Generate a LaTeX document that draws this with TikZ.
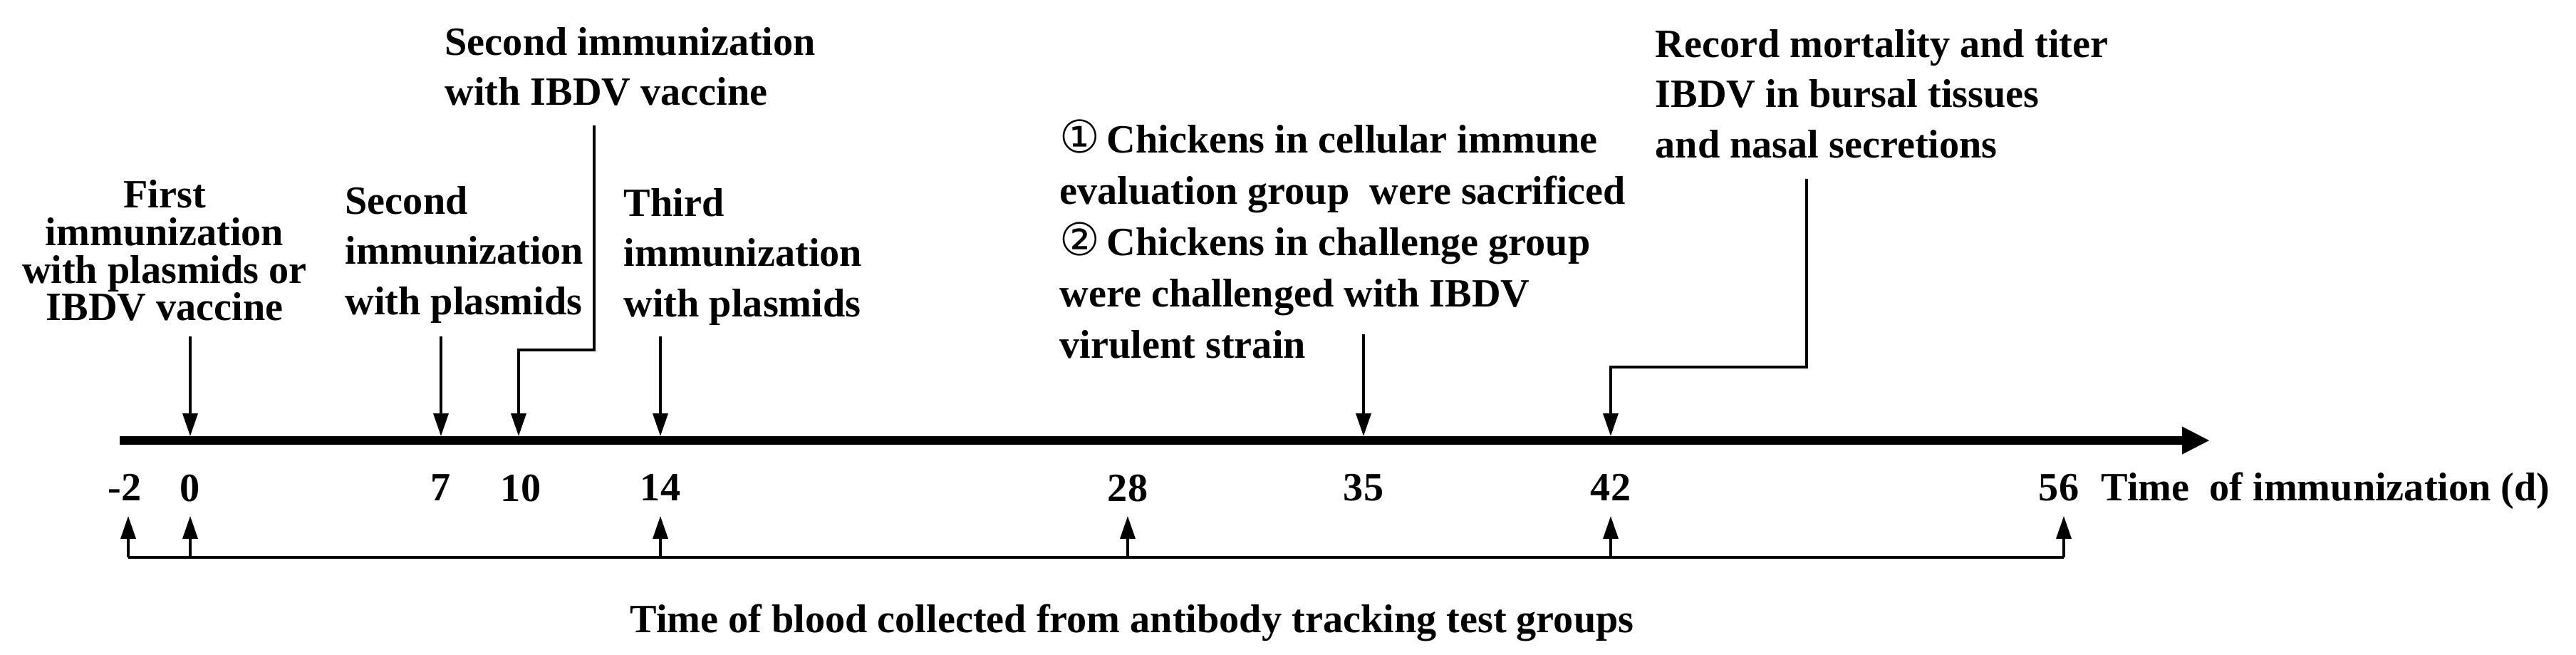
\documentclass[tikz,border=0pt]{standalone}
\usepackage{fontspec}
\setmainfont{Liberation Serif}
\newfontfamily\circfont{DejaVu Sans}
\usetikzlibrary{positioning,arrows.meta}
\tikzset{
	lbl/.style={font=\fontsize{16}{20}\selectfont\bfseries, inner sep=0pt, align=left},
	num/.style={font=\fontsize{16}{20}\selectfont\bfseries, inner sep=0pt},
	arr/.style={line width=1pt, -{Triangle[length=3.2mm,width=2.1mm]}},
	timeaxis/.style={line width=0.12cm, -{Triangle[length=3.9mm,width=3.6mm]}},
}
\newcommand{\circnum}[1]{{\circfont\mdseries\fontsize{18}{20}\selectfont #1}\,}

\begin{document}
\begin{tikzpicture}
	\useasboundingbox (0,0) rectangle (36.16,9.19);
	\coordinate (ax0) at (1.68,3.01);
	\coordinate (ax1) at (31.02,3.01);
	\coordinate (dm2) at (1.80,3.07);
	\coordinate (d0) at (2.67,3.07);
	\coordinate (d7) at (6.19,3.07);
	\coordinate (d10) at (7.28,3.07);
	\coordinate (d14) at (9.27,3.07);
	\coordinate (d28) at (15.83,3.07);
	\coordinate (d35) at (19.14,3.07);
	\coordinate (d42) at (22.61,3.07);
	\coordinate (d56) at (28.97,3.07);
	\coordinate[above=1.40cm of d0] (t0);
	\coordinate[above=1.40cm of d7] (t7);
	\coordinate[above=1.40cm of d14] (t14);
	\coordinate[above=1.43cm of d35] (t35);
	\coordinate (e10a) at (8.34,7.43);
	\coordinate (e10b) at (7.28,4.28);
	\coordinate (e42a) at (25.36,6.68);
	\coordinate (e42b) at (22.61,4.04);
	\node[num, below=0.53cm of dm2, xshift=-0.05cm] (nm2) {-2};
	\node[num, below=0.53cm of d0] (n0) {0};
	\node[num, below=0.53cm of d7] (n7) {7};
	\node[num, below=0.53cm of d10, xshift=0.03cm] (n10) {10};
	\node[num, below=0.53cm of d14] (n14) {14};
	\node[num, below=0.53cm of d28] (n28) {28};
	\node[num, below=0.53cm of d35] (n35) {35};
	\node[num, below=0.53cm of d42] (n42) {42};
	\node[num, below=0.53cm of d56, xshift=-0.07cm] (n56) {56};
	\node[num, base right=0.3cm of n56] (tlabel) {Time~ of immunization (d)};
	\coordinate[below=1.12cm of dm2] (um2);
	\coordinate[below=1.12cm of d0] (u0);
	\coordinate[below=1.12cm of d14] (u14);
	\coordinate[below=1.12cm of d28] (u28);
	\coordinate[below=1.12cm of d42] (u42);
	\coordinate[below=1.12cm of d56] (u56);
	\coordinate[below=0.58cm of um2] (bm2);
	\coordinate[below=0.58cm of u0] (b0);
	\coordinate[below=0.58cm of u14] (b14);
	\coordinate[below=0.58cm of u28] (b28);
	\coordinate[below=0.58cm of u42] (b42);
	\coordinate[below=0.58cm of u56] (b56);
	\node[lbl, anchor=north, align=center, font=\fontsize{16}{15}\selectfont\bfseries] (first) at (2.31,6.67) {First\\immunization\\with plasmids or\\IBDV vaccine};
	\node[lbl, anchor=north west] (second) at (4.84,6.58) {Second\\immunization\\with plasmids};
	\node[lbl, anchor=north west] (secondv) at (6.24,8.81) {Second immunization\\with IBDV vaccine};
	\node[lbl, anchor=north west] (third) at (8.75,6.55) {Third\\immunization\\with plasmids};
	\node[lbl, anchor=north west, font=\fontsize{16}{20.5}\selectfont\bfseries] (chick) at (14.87,7.52) {\circnum{①}Chickens in cellular immune\\evaluation group~ were sacrificed\\\circnum{②}Chickens in challenge group\\were challenged with IBDV\\virulent strain};
	\node[lbl, anchor=north west] (record) at (23.23,8.78) {Record mortality and titer\\IBDV in bursal tissues\\and nasal secretions};
	\node[lbl, anchor=north] (blood) at (15.89,0.72) {Time of blood collected from antibody tracking test groups};
	\draw[timeaxis] (ax0) -- (ax1);
	\draw[arr] (t0) -- (d0);
	\draw[arr] (t7) -- (d7);
	\draw[arr] (e10a) |- (e10b) -- (d10);
	\draw[arr] (t14) -- (d14);
	\draw[arr] (t35) -- (d35);
	\draw[arr] (e42a) |- (e42b) -- (d42);
	\draw[line width=1pt] (bm2) -- (b56);
	\draw[arr] (bm2) -- (um2);
	\draw[arr] (b0) -- (u0);
	\draw[arr] (b14) -- (u14);
	\draw[arr] (b28) -- (u28);
	\draw[arr] (b42) -- (u42);
	\draw[arr] (b56) -- (u56);
\end{tikzpicture}
\end{document}
